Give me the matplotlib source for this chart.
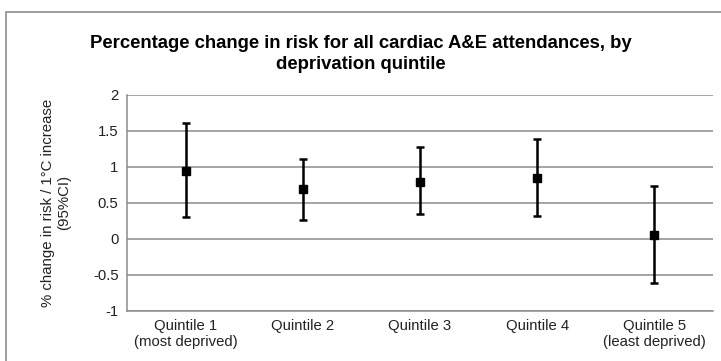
import matplotlib.pyplot as plt
import matplotlib.patches as mpatches

plt.rcParams["font.family"] = ["Liberation Sans", "DejaVu Sans"]

# Quintile estimates
labels = ["Quintile 1\n(most deprived)", "Quintile 2", "Quintile 3",
          "Quintile 4", "Quintile 5\n(least deprived)"]
estimate = [0.95, 0.69, 0.79, 0.84, 0.05]
lower = [0.30, 0.26, 0.34, 0.32, -0.62]
upper = [1.61, 1.11, 1.275, 1.39, 0.74]

err_lo = [e - l for e, l in zip(estimate, lower)]
err_hi = [u - e for e, u in zip(estimate, upper)]

fig = plt.figure(figsize=(7.21, 3.61), dpi=100)
ax = fig.add_axes([0.176, 0.139, 0.813, 0.598])

# outer chart border (left and top only visible)
fig.patches.append(mpatches.Rectangle((0.009, -0.1), 1.2, 1.067, transform=fig.transFigure,
                                      fill=False, edgecolor="#8c8c8c", linewidth=1.2))

x = list(range(len(labels)))
ax.errorbar(x, estimate, yerr=[err_lo, err_hi], fmt="s", color="black",
            markersize=6, elinewidth=1.8, capsize=3, capthick=1.8, zorder=3)

ax.set_xlim(-0.5, 4.5)
ax.set_ylim(-1, 2)
ax.set_yticks([-1, -0.5, 0, 0.5, 1, 1.5, 2])
ax.set_yticklabels(["-1", "-0.5", "0", "0.5", "1", "1.5", "2"])
ax.set_xticks(x)
ax.set_xticklabels(labels)
ax.yaxis.grid(True, color="#8c8c8c", linewidth=1.1)
ax.set_axisbelow(True)
ax.tick_params(length=0, labelsize=10.7, labelcolor="#222222", pad=6)

for s in ["top", "right"]:
    ax.spines[s].set_visible(False)
ax.spines["left"].set_color("#8c8c8c")
ax.spines["bottom"].set_color("#8c8c8c")
ax.spines["left"].set_linewidth(1.1)
ax.spines["bottom"].set_linewidth(1.1)

ax.set_ylabel("% change in risk / 1°C increase\n(95%CI)", fontsize=10.8,
              color="#222222", labelpad=16)
fig.text(0.5, 0.85, "Percentage change in risk for all cardiac A&E attendances, by\ndeprivation quintile",
         ha="center", va="center", fontsize=13.3, fontweight="bold", linespacing=1.3)

plt.savefig("out.png")
plt.close()
